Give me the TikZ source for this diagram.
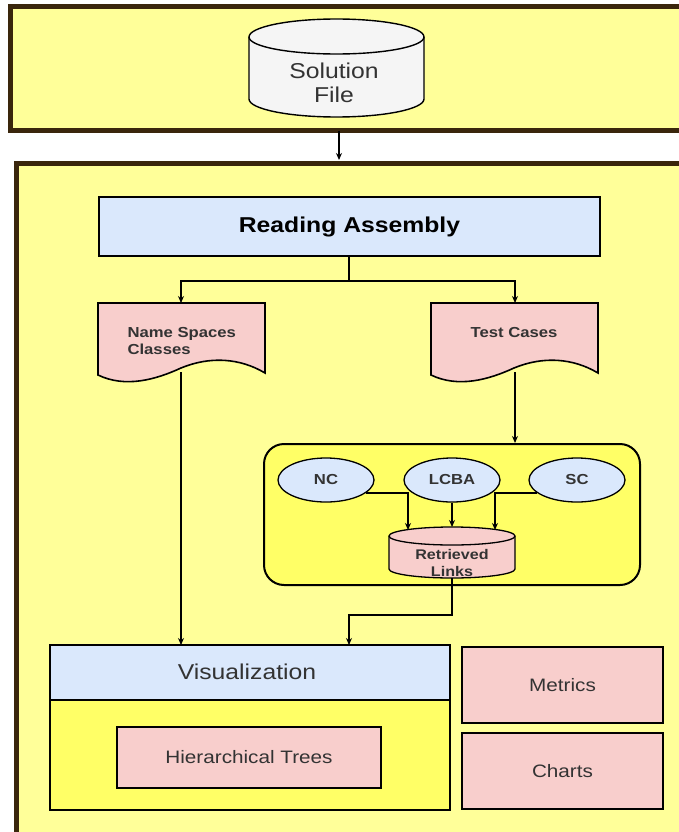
\documentclass[tikz,border=0pt]{standalone}
\usepackage{fontspec}
\setmainfont[FakeStretch=1.15]{Liberation Sans}
\usetikzlibrary{shapes.geometric,arrows.meta}
\definecolor{paleY}{HTML}{FFFF99}
\definecolor{brightY}{HTML}{FFFF66}
\definecolor{frameB}{HTML}{3A260C}
\definecolor{lblue}{HTML}{DAE8FC}
\definecolor{lpink}{HTML}{F8CECC}
\definecolor{lgray}{HTML}{F5F5F5}
\definecolor{txt}{HTML}{333333}
\tikzset{
  frame/.style={draw=frameB,line width=5pt,fill=paleY},
  box/.style={draw=black,line width=1.6pt},
  conn/.style={line width=1.2pt,-{Stealth[length=7pt,width=6pt]}},
  ell/.style={ellipse,draw=black,line width=1.3pt,fill=lblue,minimum width=96pt,minimum height=44pt,font=\bfseries\fontsize{14.5}{16}\selectfont,text=txt},
}
\begin{document}
\begin{tikzpicture}[x=1pt,y=-1pt]
\useasboundingbox (0,0) rectangle (678,832);
\fill[white] (0,0) rectangle (678,832);
% frames
\draw[frame] (10.5,6.5) rectangle (700,130.5);
\draw[frame] (16.5,163.5) rectangle (700,860);
% Solution file cylinder
\draw[box,line width=1.4pt,fill=lgray] (249,37) -- (249,99) arc[start angle=180,end angle=0,x radius=87.5,y radius=18] -- (424,37) arc[start angle=0,end angle=-180,x radius=87.5,y radius=18] -- cycle;
\draw[box,line width=1.4pt] (249,37) arc[start angle=180,end angle=0,x radius=87.5,y radius=17];
\node[text=txt,font=\fontsize{21.5}{24}\selectfont,align=center] (sol) at (334,83) {Solution\\File};
\coordinate (solb) at (339,131);
\coordinate (fr2) at (339,160);
\draw[conn] (solb) -- (fr2);
% Reading assembly
\node[box,fill=lblue,minimum width=501pt,minimum height=59pt,font=\bfseries\fontsize{21.5}{24}\selectfont,inner sep=0] (ra) at (349.5,226.5) {Reading Assembly};
% documents
\draw[box,fill=lpink] (98,303) -- (265,303) -- (265,373) .. controls (240,358) and (210,356) .. (181,368) .. controls (155,380) and (125,388) .. (98,375) -- cycle;
\node[font=\bfseries\fontsize{14.5}{17}\selectfont,text=txt,align=left,anchor=west] (ns) at (124,341.5) {Name Spaces\\Classes};
\coordinate (nstop) at (181,303);
\coordinate (nsbot) at (181,372);
\draw[box,fill=lpink] (431,303) -- (598,303) -- (598,373) .. controls (573,358) and (543,356) .. (514,368) .. controls (488,380) and (458,388) .. (431,375) -- cycle;
\node[font=\bfseries\fontsize{14.5}{17}\selectfont,text=txt] (tc) at (514,333) {Test Cases};
\coordinate (tctop) at (515,303);
\coordinate (tcbot) at (515,372);
% branch
\coordinate (br) at (349,281);
\draw[line width=1.2pt] (349,256) -- (br);
\draw[conn] (br) -| (nstop);
\draw[conn] (br) -| (tctop);
% rounded box
\node[draw=black,line width=2pt,fill=brightY,rounded corners=20pt,minimum width=376pt,minimum height=141pt,inner sep=0] (rb) at (452,514.5) {};
\draw[conn] (tcbot) -- (rb.north -| tcbot);
% ellipses
\node[ell] (nc) at (326,480) {NC};
\node[ell] (lcba) at (452,480) {LCBA};
\node[ell] (sc) at (577,480) {SC};
% Retrieved links cylinder
\draw[box,line width=1.3pt,fill=lpink] (389,536) -- (389,569) arc[start angle=180,end angle=0,x radius=63,y radius=9] -- (515,536) arc[start angle=0,end angle=-180,x radius=63,y radius=9] -- cycle;
\draw[box,line width=1.3pt] (389,536) arc[start angle=180,end angle=0,x radius=63,y radius=9];
\node[font=\bfseries\fontsize{14}{17}\selectfont,text=txt,align=center] (rl) at (452,563) {Retrieved\\Links};
\coordinate (rltop) at (452,527);
\coordinate (rlbot) at (452,578);
\draw[conn] (nc.-18) -| (408,530);
\draw[conn] (lcba.south) -- (rltop);
\draw[conn] (sc.198) -| (495,530);
% visualization
\node[box,fill=brightY,minimum width=400pt,minimum height=165pt,inner sep=0] (viz) at (250,727.5) {};
\draw[box,fill=lblue] (50,645) rectangle (450,700);
\node[font=\fontsize{21.5}{24}\selectfont,text=txt] (vizt) at (247,672) {Visualization};
\node[box,fill=lpink,minimum width=264pt,minimum height=61pt,font=\fontsize{18}{20}\selectfont,text=txt,inner sep=0] (ht) at (249,757.5) {Hierarchical Trees};
\node[box,fill=lpink,minimum width=201pt,minimum height=76pt,font=\fontsize{18}{20}\selectfont,text=txt,inner sep=0] (met) at (562.5,685) {Metrics};
\node[box,fill=lpink,minimum width=201pt,minimum height=76pt,font=\fontsize{18}{20}\selectfont,text=txt,inner sep=0] (ch) at (562.5,771) {Charts};
\draw[conn] (nsbot) -- (181,645);
\draw[conn] (rlbot) |- (349,615) -- (349,645);
\end{tikzpicture}
\end{document}
